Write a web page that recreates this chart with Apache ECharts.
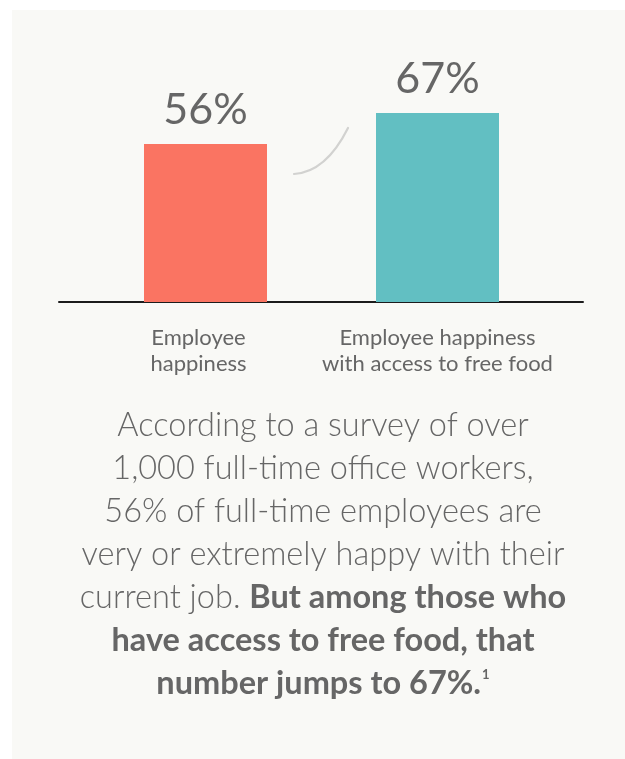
<!DOCTYPE html>
<html>
<head>
<meta charset="utf-8">
<script src="https://cdn.jsdelivr.net/npm/echarts@6/dist/echarts.min.js"></script>
<style>
html,body{margin:0;padding:0;background:#ffffff;}
#chart{width:625px;height:759px;}
</style>
</head>
<body>
<div id="chart"></div>
<script>
var categories = ['Employee\nhappiness', 'Employee happiness\nwith access to free food'];
var values = [56, 67];
var barColors = ['#FA7462', '#62BFC2'];
var valueLabels = ['56%', '67%'];
var bodyLines = [
  'According to a survey of over',
  '1,000 full-time office workers,',
  '56% of full-time employees are',
  'very or extremely happy with their'
];
var bodyMixed = 'current job. ';
var boldLines = ['But among those who', 'have access to free food, that', 'number jumps to 67%.'];
var footnote = '1';

var chart = echarts.init(document.getElementById('chart'));
var txt = '#666666';
var bodyText = bodyLines.join('\n') + '\n' + bodyMixed + '{b|' + boldLines[0] + '}\n{b|' + boldLines[1] + '}\n{b|' + boldLines[2] + '}{sup|' + footnote + '}';

var option = {
  backgroundColor: '#ffffff',
  animation: false,
  graphic: [
    { type: 'rect', z: -10, silent: true, shape: { x: 12, y: 10, width: 613, height: 749 }, style: { fill: '#F9F9F6' } },
    { type: 'bezierCurve', z: 5, silent: true, shape: { x1: 294, y1: 174, cpx1: 326, cpy1: 172, x2: 348, y2: 128 }, style: { stroke: '#D2D2D0', lineWidth: 2.2, fill: null, lineCap: 'round' } }
  ],
  title: {
    text: bodyText,
    left: 323,
    top: 404,
    padding: 0,
    textAlign: 'center',
    textStyle: {
      fontFamily: 'Lato', fontSize: 32.5, fontWeight: 300, color: txt, lineHeight: 43,
      rich: {
        b: { fontFamily: 'Lato', fontSize: 32.5, fontWeight: 'bold', color: txt, lineHeight: 43 },
        sup: { fontFamily: 'Lato', fontSize: 13, fontWeight: 'bold', color: txt, lineHeight: 43, verticalAlign: 'top', padding: [6, 0, 0, 1] }
      }
    }
  },
  grid: [
    { left: 89.5, width: 464, top: 20, bottom: 457 },
    { left: 59, right: 42, top: 20, bottom: 457 }
  ],
  xAxis: [
    {
      type: 'category', gridIndex: 0,
      data: categories.map(function (c, i) {
        return i === 0 ? { value: c, textStyle: { padding: [0, 14, 0, 0] } } : c;
      }),
      axisLine: { show: false }, axisTick: { show: false },
      axisLabel: { fontFamily: 'Lato', fontSize: 22, color: txt, lineHeight: 26, margin: 23, interval: 0 }
    },
    {
      type: 'category', gridIndex: 1, data: [''],
      axisLine: { show: true, lineStyle: { color: '#1c1c1c', width: 2 } },
      axisTick: { show: false }, axisLabel: { show: false }
    }
  ],
  yAxis: [
    { type: 'value', gridIndex: 0, min: 0, max: 100, show: false },
    { type: 'value', gridIndex: 1, min: 0, max: 100, show: false }
  ],
  series: [{
    type: 'bar', xAxisIndex: 0, yAxisIndex: 0, barWidth: 123,
    data: values.map(function (v, i) { return { value: v, itemStyle: { color: barColors[i] } }; }),
    label: {
      show: true, position: 'top', distance: 12,
      formatter: function (p) { return valueLabels[p.dataIndex]; },
      fontFamily: 'Lato', fontSize: 43, color: txt
    }
  }]
};
chart.setOption(option);
</script>
</body>
</html>
